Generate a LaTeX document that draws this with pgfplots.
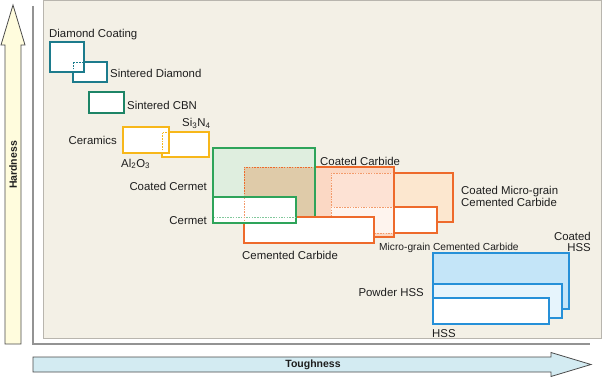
\documentclass[border=0pt]{standalone}
\usepackage{pgfplots}
\pgfplotsset{compat=1.18}
\usepackage{fontspec}
\setmainfont{Liberation Sans}
\definecolor{panelbg}{HTML}{F3F0E6}
\definecolor{panelborder}{HTML}{B8B5AE}
\definecolor{framegray}{HTML}{939393}
\definecolor{arrowline}{HTML}{4A4A4A}
\definecolor{vfill}{HTML}{FFFCDD}
\definecolor{hfill}{HTML}{D3EBF2}
\definecolor{teal}{HTML}{1C7B8C}
\definecolor{cbn}{HTML}{1D8466}
\definecolor{yel}{HTML}{F7B71A}
\definecolor{cgreen}{HTML}{2EA45A}
\definecolor{ccfill}{HTML}{DFEEDF}
\definecolor{orng}{HTML}{EE6A2B}
\definecolor{orngdot}{HTML}{F39A6A}
\definecolor{carbfill}{HTML}{FBD8C4}
\definecolor{overlap}{HTML}{DFCBA9}
\definecolor{cmgfill}{HTML}{FCE7CF}
\definecolor{cmgincc}{HTML}{FDE2D4}
\definecolor{mgincc}{HTML}{FEF4EE}
\definecolor{blu}{HTML}{2690D8}
\definecolor{chssfill}{HTML}{C4E5F8}
\definecolor{phssfill}{HTML}{E6F4FC}
\definecolor{txt}{HTML}{1E1E1E}
\begin{document}
\begin{tikzpicture}[
  lbl/.style={font=\fontsize{11.4bp}{13bp}\selectfont, text=txt, inner sep=0pt},
  dots/.style={line width=0.7pt, dash pattern=on 1.5pt off 1.2pt}]
\path[use as bounding box] (0,0) rectangle (602bp,377bp);
\begin{axis}[at={(0,0)}, anchor=south west, width=602bp, height=377bp, scale only axis,
  xmin=0, xmax=602, ymin=0, ymax=377, y dir=reverse, hide axis, clip=false,
  every axis plot/.append style={line join=miter}]
% panel and frame
\addplot[fill=panelbg, draw=panelborder, line width=1pt] coordinates {(43.5,0.5) (601,0.5) (601,338) (43.5,338)} --cycle;
\addplot[draw=framegray, line width=1.6pt] coordinates {(33,6) (33,344) (590,344)};
% axis arrows
\addplot[fill=vfill, draw=arrowline, line width=0.8pt] coordinates {(5,344) (5,45) (1,45) (13,5) (25,45) (21,45) (21,344)} --cycle;
\addplot[fill=hfill, draw=arrowline, line width=0.8pt] coordinates {(33,357) (551,357) (551,352.5) (591,364.5) (551,376.5) (551,372) (33,372)} --cycle;
\node[rotate=90, font=\fontsize{10.5bp}{12bp}\selectfont\bfseries, text=txt] at (axis cs:13,165) {Hardness};
\node[font=\fontsize{10.5bp}{12bp}\selectfont\bfseries, text=txt] at (axis cs:313,364.5) {Toughness};
% diamond
\addplot[fill=white, draw=teal, line width=1.5pt] coordinates {(73,62) (107,62) (107,82) (73,82)} --cycle;
\addplot[fill=white, draw=teal, line width=1.5pt] coordinates {(50,42) (84,42) (84,72) (50,72)} --cycle;
\addplot[draw=teal, dots] coordinates {(73,72) (73,62) (84,62)};
% CBN
\addplot[fill=white, draw=cbn, line width=1.5pt] coordinates {(89,92) (124,92) (124,113) (89,113)} --cycle;
% ceramics
\addplot[fill=white, draw=yel, line width=2pt] coordinates {(162,132) (209,132) (209,157) (162,157)} --cycle;
\addplot[fill=white, draw=yel, line width=2pt] coordinates {(123,127) (169,127) (169,153) (123,153)} --cycle;
\addplot[draw=yel, dots] coordinates {(162,153) (162,132) (169,132)};
% carbide group fills
\addplot[fill=cmgfill, draw=none] coordinates {(331,173) (453,173) (453,222) (331,222)} --cycle;
\addplot[fill=white, draw=none] coordinates {(331,207) (437,207) (437,233) (331,233)} --cycle;
\addplot[fill=ccfill, draw=none] coordinates {(213,148) (315,148) (315,217) (213,217)} --cycle;
\addplot[fill=carbfill, draw=none] coordinates {(244,167) (394,167) (394,237) (244,237)} --cycle;
\addplot[fill=overlap, draw=none] coordinates {(244,167) (315,167) (315,217) (244,217)} --cycle;
\addplot[fill=cmgincc, draw=none] coordinates {(331,173) (394,173) (394,207) (331,207)} --cycle;
\addplot[fill=mgincc, draw=none] coordinates {(331,207) (394,207) (394,233) (331,233)} --cycle;
% micro-grain borders
\addplot[draw=orng, line width=1.8pt] coordinates {(394,173) (453,173) (453,222) (437,222)};
\addplot[draw=orng, line width=1.8pt] coordinates {(394,207) (437,207) (437,233) (394,233)};
\addplot[draw=orngdot, dots] coordinates {(394,173) (331,173) (331,233) (394,233)};
\addplot[draw=orngdot, dots] coordinates {(331,207) (394,207)};
% coated carbide border
\addplot[draw=orng, line width=1.8pt] coordinates {(315,167) (394,167) (394,237) (374,237)};
\addplot[draw=orng, dots] coordinates {(315,167) (244,167) (244,217)};
% coated cermet border
\addplot[draw=cgreen, line width=1.8pt] coordinates {(213,148) (315,148) (315,217) (213,217)} --cycle;
% cemented carbide
\addplot[fill=white, draw=orng, line width=1.8pt] coordinates {(244,217) (374,217) (374,243) (244,243)} --cycle;
% cermet
\addplot[fill=white, draw=cgreen, line width=1.8pt] coordinates {(213,197) (296,197) (296,223) (213,223)} --cycle;
\addplot[draw=cgreen!60, dots] coordinates {(214,217) (295,217)};
\addplot[draw=orngdot, dots] coordinates {(244,198) (244,222)};
% HSS
\addplot[fill=chssfill, draw=blu, line width=1.8pt] coordinates {(433,253) (569,253) (569,309) (433,309)} --cycle;
\addplot[fill=phssfill, draw=blu, line width=1.8pt] coordinates {(433,284) (562,284) (562,318) (433,318)} --cycle;
\addplot[fill=white, draw=blu, line width=1.8pt] coordinates {(433,298) (549,298) (549,324) (433,324)} --cycle;
% labels
\node[lbl, anchor=base west] at (axis cs:49,38) {Diamond Coating};
\node[lbl, anchor=base west] at (axis cs:110,78) {Sintered Diamond};
\node[lbl, anchor=base west] at (axis cs:127,110) {Sintered CBN};
\node[lbl, anchor=base east] at (axis cs:117,144.5) {Ceramics};
\node[lbl, anchor=base west] at (axis cs:121,167) {Al\textsubscript{2}O\textsubscript{3}};
\node[lbl, anchor=base west] at (axis cs:182,127) {Si\textsubscript{3}N\textsubscript{4}};
\node[lbl, anchor=base east] at (axis cs:207,190) {Coated Cermet};
\node[lbl, anchor=base east] at (axis cs:207,224) {Cermet};
\node[lbl, anchor=base west] at (axis cs:242,259) {Cemented Carbide};
\node[lbl, anchor=base west] at (axis cs:320,165) {Coated Carbide};
\node[lbl, anchor=base west] at (axis cs:461,194) {Coated Micro-grain};
\node[lbl, anchor=base west] at (axis cs:461,206) {Cemented Carbide};
\node[lbl, anchor=base west, font=\fontsize{10.2bp}{12bp}\selectfont] at (axis cs:379,250) {Micro-grain Cemented Carbide};
\node[lbl, anchor=base east] at (axis cs:591,240) {Coated};
\node[lbl, anchor=base east] at (axis cs:591,251) {HSS};
\node[lbl, anchor=base east] at (axis cs:424,296) {Powder HSS};
\node[lbl, anchor=base west] at (axis cs:432,337) {HSS};
\end{axis}
\end{tikzpicture}
\end{document}
